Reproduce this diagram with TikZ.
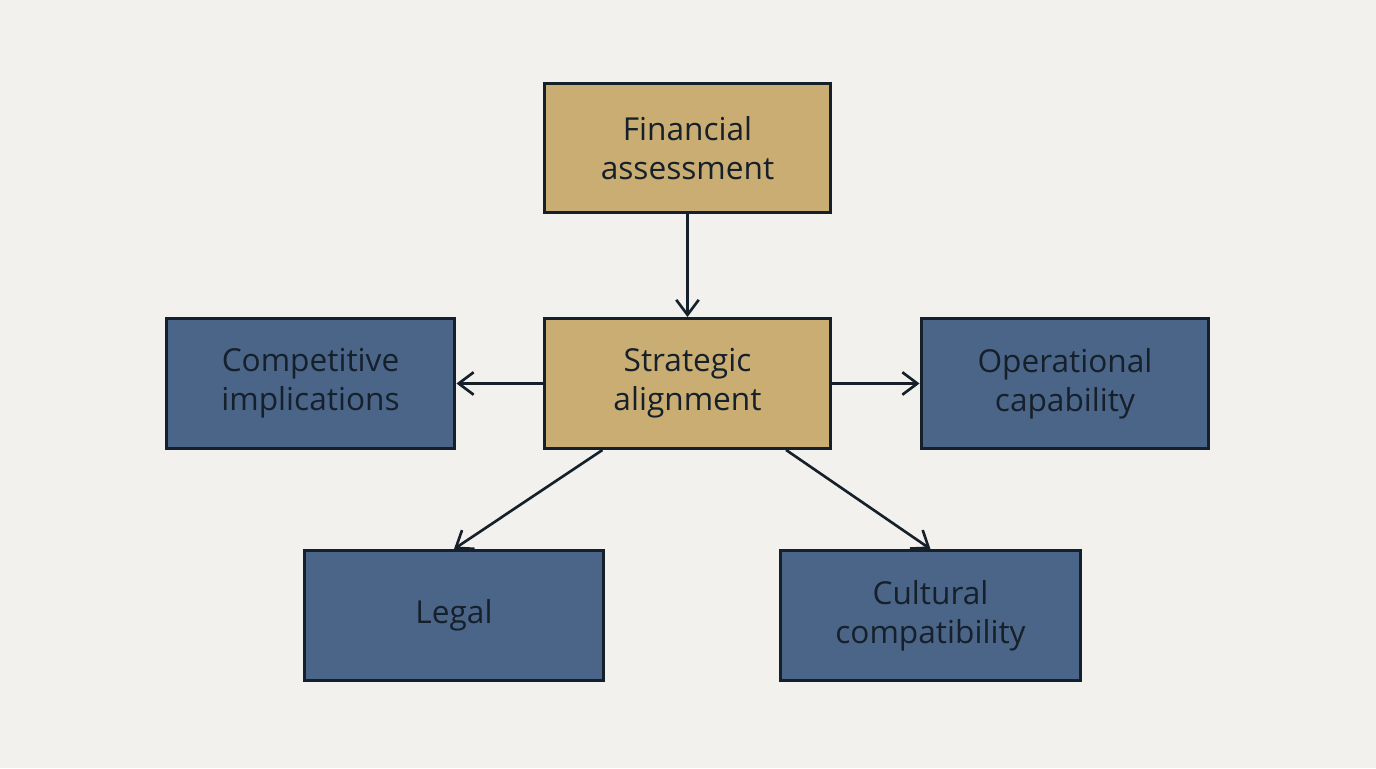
\documentclass[tikz,border=0pt]{standalone}
\usepackage{fontspec}
\setmainfont{Open Sans}
\usetikzlibrary{arrows.meta, positioning}
\definecolor{bgcol}{HTML}{F2F1ED}
\definecolor{goldbox}{HTML}{C9AD72}
\definecolor{bluebox}{HTML}{4A6587}
\definecolor{edgecol}{HTML}{15202B}
\begin{document}
\begin{tikzpicture}[x=0.02cm, y=-0.02cm,
    box/.style={draw=edgecol, line width=1.7pt, minimum width=5.74cm, minimum height=2.6cm,
        align=center, font=\fontsize{18}{22}\selectfont, text=edgecol},
    gold/.style={box, fill=goldbox},
    blue/.style={box, fill=bluebox},
    link/.style={draw=edgecol, line width=1.5pt, -{Straight Barb[length=3mm, width=4.5mm]}}]
    % background
    \fill[bgcol] (0,0) rectangle (1376,768);
    % Boxes
    \node[gold] (fin) at (687.5,148) {Financial\\assessment};
    \node[gold] (strat) at (687.5,383.5) {Strategic\\alignment};
    \node[blue, minimum width=5.78cm] (comp) at (310.5,383.5) {Competitive\\implications};
    \node[blue, minimum width=5.76cm] (oper) at (1065,383.5) {Operational\\capability};
    \node[blue, minimum width=6cm] (legal) at (454,615.5) {Legal};
    \node[blue, minimum width=6cm] (cult) at (930.5,615.5) {Cultural\\compatibility};
    % Connectors
    \draw[link] (fin) -- (strat);
    \draw[link] (strat) -- (comp);
    \draw[link] (strat) -- (oper);
    \draw[link] (strat.-142) -- (legal.north);
    \draw[link] (strat.-34.5) -- (cult.north);
\end{tikzpicture}
\end{document}
